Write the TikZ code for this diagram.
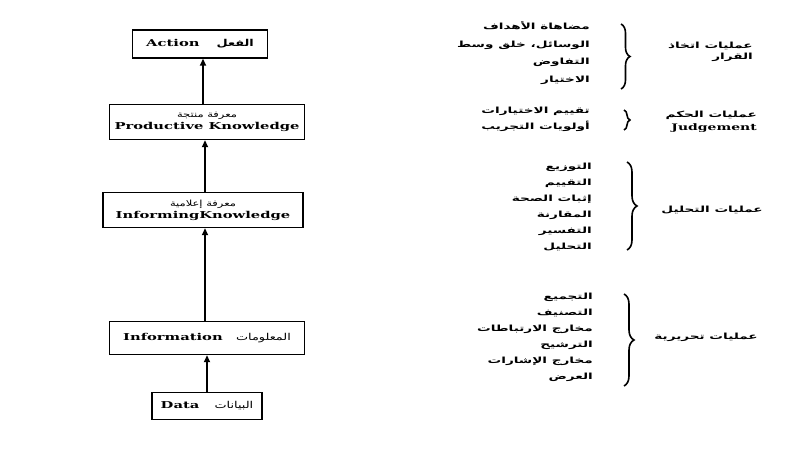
\documentclass[tikz,border=0pt]{standalone}
\usepackage{fontspec}
\setmainfont{Liberation Serif}
\newfontfamily\arabicfont[Script=Arabic,FakeStretch=1.6]{DejaVu Sans}
\newfontfamily\arabicbox[Script=Arabic,FakeStretch=1.35]{DejaVu Sans}
\newfontfamily\boxfont[FakeStretch=1.55]{DejaVu Serif}
\TeXXeTstate=1
\usetikzlibrary{decorations.pathreplacing,arrows.meta}
\newcommand{\AR}[1]{\beginR #1\endR}
\begin{document}
\begin{tikzpicture}[x=1pt,y=-1pt,
  kbox/.style={draw,line width=1.4pt,inner sep=0pt,align=center,
    font=\boxfont\bfseries\fontsize{9.5}{12}\selectfont},
  uparrow/.style={-{Triangle[length=7pt,width=6pt]},line width=1.6pt},
  items/.style={align=right,anchor=east,inner sep=0pt,
    font=\arabicfont\bfseries\fontsize{8.5}{16}\selectfont},
  lbl/.style={align=right,anchor=east,inner sep=0pt,
    font=\arabicfont\bfseries\fontsize{8.5}{11}\selectfont},
  bracelin/.style={decorate,line width=1.6pt,
    decoration={brace,amplitude=#1}}]
\useasboundingbox (0,0) rectangle (806,452);
\fill[white] (0,0) rectangle (806,452);

% left column
\node[kbox,minimum width=135pt,minimum height=28pt] (action) at (200,44)
  {Action\hspace{1.8em}{\arabicbox\bfseries\AR{الفعل}}};
\node[kbox,minimum width=195pt,minimum height=35pt] (prod) at (207,122)
  {{\arabicbox\mdseries\fontsize{8.5}{10}\selectfont\AR{معرفة منتجة}}\\Productive Knowledge};
\node[kbox,minimum width=200pt,minimum height=35pt] (inform) at (203,210)
  {{\arabicbox\mdseries\fontsize{8.5}{10}\selectfont\AR{معرفة إعلامية}}\\InformingKnowledge};
\node[kbox,minimum width=195pt,minimum height=33pt] (info) at (207,338)
  {Information\hspace{1.4em}{\arabicbox\mdseries\AR{المعلومات}}};
\node[kbox,minimum width=110pt,minimum height=27pt] (data) at (207,406)
  {Data\hspace{1.6em}{\arabicbox\mdseries\AR{البيانات}}};

\draw[uparrow] (data.north) -- (data.north |- info.south);
\draw[uparrow] (info.north -| 205,0) -- (inform.south -| 205,0);
\draw[uparrow] (inform.north -| 205,0) -- (prod.south -| 205,0);
\draw[uparrow] (prod.north -| 203,0) -- (action.south -| 203,0);

% right side: decision
\node[items,font=\arabicfont\bfseries\fontsize{8.5}{17.5}\selectfont] (decitems) at (590,53)
  {\AR{مضاهاة الأهداف}\\\AR{الوسائل، خلق وسط}\\\AR{التفاوض}\\\AR{الاختيار}};
\coordinate (decA) at (621,24);
\coordinate (decB) at (621,89);
\draw[bracelin=9pt] (decA) -- (decB);
\node[lbl] (declbl) at (753,52) {\AR{عمليات اتخاذ}\\\AR{القرار}};

% judgement
\node[items] (judgitems) at (590,119)
  {\AR{تقييم الاختيارات}\\\AR{أولويات التجريب}};
\coordinate (judA) at (624,110);
\coordinate (judB) at (624,130);
\draw[bracelin=6pt] (judA) -- (judB);
\node[lbl,font=\arabicfont\bfseries\fontsize{8.5}{13}\selectfont] (judlbl) at (757,122)
  {\AR{عمليات الحكم}\\{\boxfont\bfseries\fontsize{9}{13}\selectfont Judgement}};

% analysis
\node[items] (anaitems) at (592,207)
  {\AR{التوزيع}\\\AR{التقييم}\\\AR{إثبات الصحة}\\\AR{المقارنة}\\\AR{التفسير}\\\AR{التحليل}};
\coordinate (anaA) at (627,162);
\coordinate (anaB) at (627,250);
\draw[bracelin=10pt] (anaA) -- (anaB);
\node[lbl] (analbl) at (763,210) {\AR{عمليات التحليل}};

% editorial
\node[items] (editems) at (593,337)
  {\AR{التجميع}\\\AR{التصنيف}\\\AR{مخارج الارتباطات}\\\AR{الترشيح}\\\AR{مخارج الإشارات}\\\AR{العرض}};
\coordinate (edA) at (624,294);
\coordinate (edB) at (624,386);
\draw[bracelin=10pt] (edA) -- (edB);
\node[lbl] (edlbl) at (758,337) {\AR{عمليات تحريرية}};
\end{tikzpicture}
\end{document}
